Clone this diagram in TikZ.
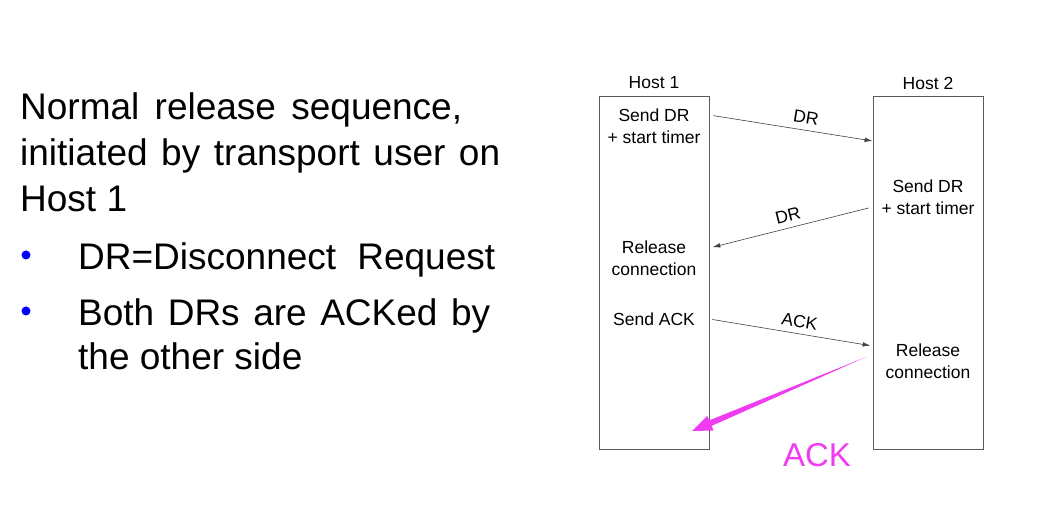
\documentclass[tikz,border=0pt]{standalone}
\usepackage{fontspec}
\setmainfont{Liberation Sans}
\usetikzlibrary{arrows.meta,calc}

\definecolor{ackpink}{RGB}{240,60,240}
\definecolor{boxgray}{RGB}{90,90,90}
% stretch the word gaps of a line to a given width
\newcommand\spreadline[2]{\hbox to #1{\spaceskip=.28em plus 1fil\relax #2}}

\begin{document}
\begin{tikzpicture}[x=1pt,y=-1pt,
  big/.style={anchor=base west,inner sep=0pt,font=\fontsize{37}{46}\selectfont},
  small/.style={align=center,inner sep=0pt,font=\fontsize{17.5}{22}\selectfont},
  hostbox/.style={draw=boxgray,line width=0.9pt,minimum width=110pt,minimum height=353pt,inner sep=0pt},
  msg/.style={draw=black!75,line width=0.6pt,-{Latex[length=8pt,width=4.5pt]}},
  dot/.style={circle,fill=blue,inner sep=0pt,minimum size=9pt}]
\useasboundingbox (0,0) rectangle (1037,521);
\node[big] (title1) at (20,120) {\spreadline{442pt}{Normal release sequence,}};
\node[big] (title2) at (20,166) {\spreadline{480pt}{initiated by transport user on}};
\node[big] (title3) at (20,212) {Host 1};
\foreach \i/\y in {1/255,2/311}
  \node[dot] (dot\i) at (26,\y) {};
\node[big] (item1) at (78,270) {\spreadline{417pt}{DR=Disconnect Request}};
\node[big] (item2) at (78,326) {\spreadline{412pt}{Both DRs are ACKed by}};
\node[big] (item3) at (78,370) {the other side};
\foreach \h/\x in {1/654,2/928} {
  \node[hostbox] (h\h) at (\x,272.5) {};
  \node[small] (name\h) at (\x,83) {Host \h};
}
\node[small] (send1) at (654,126) {Send DR\\+ start timer};
\node[small] (send2) at (928,197) {Send DR\\+ start timer};
\node[small] (rel1) at (654,258) {Release\\connection};
\node[small] (sendack) at (654,319) {Send ACK};
\node[small] (rel2) at (928,361) {Release\\connection};
\draw[msg,shorten <=4pt] (h1.east |- 0,115) -- node[small,sloped,above=6pt,pos=0.58] (dr1) {DR} (h2.west |- 0,141);
\draw[msg,shorten <=4pt,shorten >=3pt] (h2.west |- 0,207) -- node[small,sloped,above=6pt,pos=0.5] (dr2) {DR} (h1.east |- 0,248);
\draw[msg,shorten <=3pt,shorten >=2pt] (h1.east |- 0,319) -- node[small,sloped,above=6pt,pos=0.54] (ack) {ACK} (h2.west |- 0,346);
\coordinate (ackfrom) at (866,357);
\coordinate (acktip) at (692,431);
\coordinate (ackneck) at ($(acktip)!20pt!(ackfrom)$);
\fill[ackpink] (ackfrom) -- ($(ackneck)!3pt!90:(ackfrom)$) -- ($(ackneck)!8pt!90:(ackfrom)$) -- (acktip)
  -- ($(ackneck)!8pt!-90:(ackfrom)$) -- ($(ackneck)!3pt!-90:(ackfrom)$) -- cycle;
\node[text=ackpink,inner sep=0pt,font=\fontsize{33}{40}\selectfont] (acklbl) at (817,455) {ACK};
\end{tikzpicture}
\end{document}
